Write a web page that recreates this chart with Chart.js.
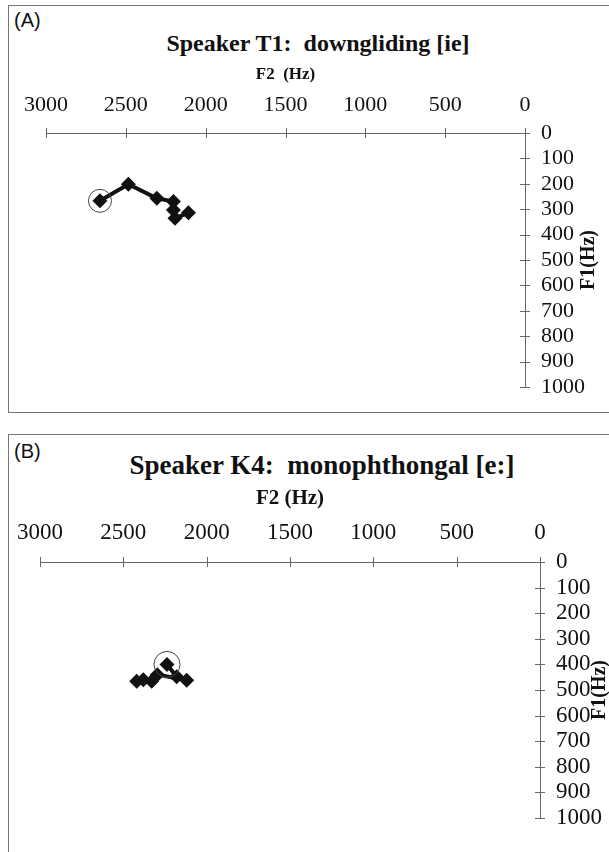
<!DOCTYPE html>
<html>
<head>
<meta charset="utf-8">
<script src="https://cdn.jsdelivr.net/npm/chart.js@4/dist/chart.umd.min.js"></script>
<style>
  html, body { margin:0; padding:0; background:#fff; }
  body { width:609px; height:852px; position:relative; overflow:hidden; }
  .panel { position:absolute; left:8px; width:640px; border:1px solid #777; box-sizing:border-box; }
  #panelA { top:5px; height:408px; }
  #panelB { top:434px; height:440px; }
  .tag { position:absolute; left:14px; font:20px "Liberation Sans", Arial, sans-serif; color:#111; }
  .ttl { position:absolute; font:bold 24px "Liberation Serif", serif; color:#111; white-space:pre; transform:translateX(-50%); }
  canvas { position:absolute; left:0; }
</style>
</head>
<body>
<div class="panel" id="panelA"></div>
<div class="panel" id="panelB"></div>
<div class="tag" style="top:9px">(A)</div>
<div class="ttl" style="top:30px;left:318px">Speaker T1:  downgliding [ie]</div>
<div class="tag" style="top:440px">(B)</div>
<div class="ttl" style="top:450px;left:322px;font-size:27px">Speaker K4:  monophthongal [e:]</div>
<canvas id="cvA" width="609" height="413" style="top:0"></canvas>
<canvas id="cvB" width="609" height="418" style="top:434px"></canvas>
<script>
/* valores (Hz) */
const f2Ticks = [3000, 2500, 2000, 1500, 1000, 500, 0];
const f1Ticks = [0, 100, 200, 300, 400, 500, 600, 700, 800, 900, 1000];

// Speaker T1: downgliding [ie]
const t1F2 = [2662, 2484, 2306, 2202, 2202, 2192, 2108];
const t1F1 = [267, 202, 257, 270, 303, 336, 314];
const t1Circled = 0;

// Speaker K4: monophthongal [e:]
const k4F2 = [2238, 2180, 2120, 2296, 2330, 2380, 2420];
const k4F1 = [400, 448, 462, 440, 466, 460, 466];
const k4Circled = 0;

const ink = '#111';
const axisGray = '#666';

/* marcas de escala cruzando a linha do eixo + título F1 rotacionado */
const crossTicks = {
  id: 'crossTicks',
  afterDraw(chart, args, opts) {
    const { ctx, scales: { x, y } } = chart;
    ctx.save();
    ctx.strokeStyle = axisGray; ctx.lineWidth = 1;
    x.ticks.forEach(t => {
      const px = Math.round(x.getPixelForValue(t.value)) + 0.5;
      ctx.beginPath(); ctx.moveTo(px, x.bottom - 5); ctx.lineTo(px, x.bottom + 5); ctx.stroke();
    });
    y.ticks.forEach(t => {
      const py = Math.round(y.getPixelForValue(t.value)) + 0.5;
      ctx.beginPath(); ctx.moveTo(y.left - 5, py); ctx.lineTo(y.left + 5, py); ctx.stroke();
    });
    ctx.translate(opts.titleX, (y.top + y.bottom) / 2);
    ctx.rotate(-Math.PI / 2);
    ctx.fillStyle = ink;
    ctx.font = 'bold ' + opts.titleSize + 'px "Liberation Serif", serif';
    ctx.textAlign = 'center'; ctx.textBaseline = 'middle';
    ctx.fillText('F1(Hz)', 0, 0);
    ctx.restore();
  }
};

function pts(xs, ys) { return xs.map((v, i) => ({ x: v, y: ys[i] })); }

function makeChart(id, xs, ys, circled, g) {
  const tickFont = { family: '"Liberation Serif", serif', size: g.tickSize };
  new Chart(document.getElementById(id), {
    type: 'line',
    data: {
      datasets: [
        { data: pts(xs, ys), borderColor: ink, backgroundColor: ink, borderWidth: 4,
          pointStyle: 'rectRot', pointRadius: 7.5, pointBorderWidth: 0, tension: 0, order: 2 },
        { data: [{ x: xs[circled], y: ys[circled] }], showLine: false, pointStyle: 'circle',
          pointRadius: g.circleR, pointBorderColor: '#444', pointBorderWidth: 1,
          pointBackgroundColor: 'rgba(0,0,0,0)', order: 1 }
      ]
    },
    options: {
      responsive: false, animation: false, devicePixelRatio: 1,
      layout: { padding: { left: g.left, top: g.top, bottom: g.bottom, right: 0 } },
      plugins: { legend: { display: false }, tooltip: { enabled: false },
        crossTicks: { titleX: g.titleX, titleSize: g.f1Size } },
      scales: {
        x: {
          type: 'linear', position: 'top', reverse: true, min: 0, max: 3000,
          afterBuildTicks: s => { s.ticks = f2Ticks.map(v => ({ value: v })); },
          afterFit: s => { s.height = g.xH; },
          grid: { display: false },
          border: { display: true, color: axisGray, width: 1 },
          ticks: { color: ink, padding: g.xPad, maxRotation: 0, autoSkip: false, font: tickFont,
            callback: v => String(v) },
          title: { display: true, text: g.f2Text, color: ink, padding: { top: g.tPad, bottom: 0 },
            font: { family: '"Liberation Serif", serif', size: g.f2Size, weight: 'bold' } }
        },
        y: {
          type: 'linear', position: 'right', reverse: true, min: 0, max: 1000,
          afterBuildTicks: s => { s.ticks = f1Ticks.map(v => ({ value: v })); },
          afterFit: s => { s.width = 609 - g.right; },
          grid: { display: false },
          border: { display: true, color: axisGray, width: 1 },
          ticks: { color: ink, padding: 8, autoSkip: false, font: tickFont,
            callback: v => String(v) }
        }
      }
    },
    plugins: [crossTicks]
  });
}

// área do gráfico A: x 46..525, y 133..387 ; B: x 40..540, y 562..818 (página)
makeChart('cvA', t1F2, t1F1, t1Circled,
  { left: 46, right: 525, top: 58, xH: 133 - 58, bottom: 413 - 387, xPad: 7, tPad: 6,
    titleX: 589, circleR: 11.5, tickSize: 22, f2Size: 17, f2Text: 'F2  (Hz)', f1Size: 20 });
makeChart('cvB', k4F2, k4F1, k4Circled,
  { left: 40, right: 540, top: 50, xH: 128 - 50, bottom: 418 - 384, xPad: 7, tPad: 2,
    titleX: 600, circleR: 13, tickSize: 23, f2Size: 21, f2Text: 'F2 (Hz)', f1Size: 20 });
</script>
</body>
</html>
